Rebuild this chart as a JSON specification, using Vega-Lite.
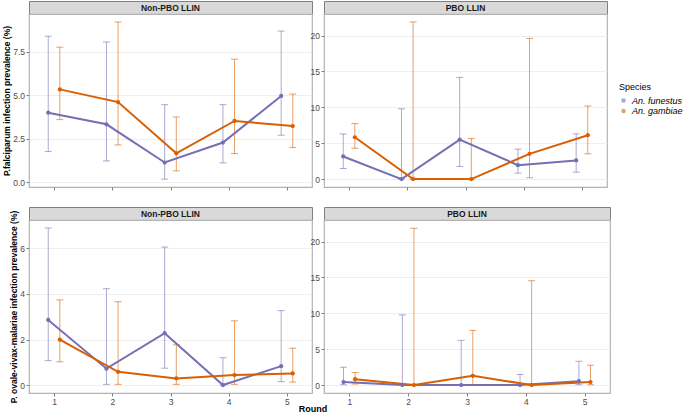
{
  "$schema": "https://vega.github.io/schema/vega-lite/v6.json",
  "padding": {"left": 2, "top": 0, "right": 0, "bottom": 0},
  "title": {"text": "Round", "orient": "bottom", "anchor": "middle", "frame": "group", "fontSize": 9, "fontWeight": "bold", "color": "#000000", "offset": -1, "dx": 284},
  "config": {
    "font": "Liberation Sans",
    "view": {"stroke": "#B3B3B3", "strokeWidth": 1.2},
    "axis": {"labelFontSize": 8.5, "labelColor": "#4D4D4D", "tickColor": "#7F7F7F", "tickSize": 3, "labelPadding": 1.5, "domain": false, "gridColor": "#EBEBEB", "gridWidth": 0.8, "titleFontSize": 8.5, "titleFontWeight": "bold", "titleColor": "#000000", "titlePadding": 1},
    "axisX": {"grid": false},
    "concat": {"spacing": 0}
  },
  "datasets": {
    "prev": [
      {"parasite": "Pf", "net": "Non-PBO LLIN", "Species": "An. funestus", "Round": 1, "prev": 4.0, "lo": 1.76, "hi": 8.4},
      {"parasite": "Pf", "net": "Non-PBO LLIN", "Species": "An. funestus", "Round": 2, "prev": 3.33, "lo": 1.22, "hi": 8.07},
      {"parasite": "Pf", "net": "Non-PBO LLIN", "Species": "An. funestus", "Round": 3, "prev": 1.13, "lo": 0.17, "hi": 4.46},
      {"parasite": "Pf", "net": "Non-PBO LLIN", "Species": "An. funestus", "Round": 4, "prev": 2.28, "lo": 1.11, "hi": 4.46},
      {"parasite": "Pf", "net": "Non-PBO LLIN", "Species": "An. funestus", "Round": 5, "prev": 4.96, "lo": 2.7, "hi": 8.7},
      {"parasite": "Pf", "net": "Non-PBO LLIN", "Species": "An. gambiae", "Round": 1, "prev": 5.34, "lo": 3.6, "hi": 7.77},
      {"parasite": "Pf", "net": "Non-PBO LLIN", "Species": "An. gambiae", "Round": 2, "prev": 4.61, "lo": 2.14, "hi": 9.22},
      {"parasite": "Pf", "net": "Non-PBO LLIN", "Species": "An. gambiae", "Round": 3, "prev": 1.66, "lo": 0.65, "hi": 3.75},
      {"parasite": "Pf", "net": "Non-PBO LLIN", "Species": "An. gambiae", "Round": 4, "prev": 3.52, "lo": 1.65, "hi": 7.08},
      {"parasite": "Pf", "net": "Non-PBO LLIN", "Species": "An. gambiae", "Round": 5, "prev": 3.23, "lo": 1.99, "hi": 5.07},
      {"parasite": "Pf", "net": "PBO LLIN", "Species": "An. funestus", "Round": 1, "prev": 3.15, "lo": 1.48, "hi": 6.3},
      {"parasite": "Pf", "net": "PBO LLIN", "Species": "An. funestus", "Round": 2, "prev": 0, "lo": 0, "hi": 9.8},
      {"parasite": "Pf", "net": "PBO LLIN", "Species": "An. funestus", "Round": 3, "prev": 5.51, "lo": 1.76, "hi": 14.17},
      {"parasite": "Pf", "net": "PBO LLIN", "Species": "An. funestus", "Round": 4, "prev": 1.94, "lo": 0.83, "hi": 4.17},
      {"parasite": "Pf", "net": "PBO LLIN", "Species": "An. funestus", "Round": 5, "prev": 2.6, "lo": 0.97, "hi": 6.3},
      {"parasite": "Pf", "net": "PBO LLIN", "Species": "An. gambiae", "Round": 1, "prev": 5.83, "lo": 4.3, "hi": 7.73},
      {"parasite": "Pf", "net": "PBO LLIN", "Species": "An. gambiae", "Round": 2, "prev": 0, "lo": 0, "hi": 21.9},
      {"parasite": "Pf", "net": "PBO LLIN", "Species": "An. gambiae", "Round": 3, "prev": 0, "lo": 0, "hi": 5.65},
      {"parasite": "Pf", "net": "PBO LLIN", "Species": "An. gambiae", "Round": 4, "prev": 3.52, "lo": 0.19, "hi": 19.6},
      {"parasite": "Pf", "net": "PBO LLIN", "Species": "An. gambiae", "Round": 5, "prev": 6.11, "lo": 3.52, "hi": 10.19},
      {"parasite": "Povm", "net": "Non-PBO LLIN", "Species": "An. funestus", "Round": 1, "prev": 2.86, "lo": 1.07, "hi": 6.9},
      {"parasite": "Povm", "net": "Non-PBO LLIN", "Species": "An. funestus", "Round": 2, "prev": 0.72, "lo": 0.03, "hi": 4.23},
      {"parasite": "Povm", "net": "Non-PBO LLIN", "Species": "An. funestus", "Round": 3, "prev": 2.28, "lo": 0.74, "hi": 6.06},
      {"parasite": "Povm", "net": "Non-PBO LLIN", "Species": "An. funestus", "Round": 4, "prev": 0, "lo": 0, "hi": 1.2},
      {"parasite": "Povm", "net": "Non-PBO LLIN", "Species": "An. funestus", "Round": 5, "prev": 0.83, "lo": 0.15, "hi": 3.27},
      {"parasite": "Povm", "net": "Non-PBO LLIN", "Species": "An. gambiae", "Round": 1, "prev": 1.99, "lo": 1.02, "hi": 3.74},
      {"parasite": "Povm", "net": "Non-PBO LLIN", "Species": "An. gambiae", "Round": 2, "prev": 0.58, "lo": 0.03, "hi": 3.66},
      {"parasite": "Povm", "net": "Non-PBO LLIN", "Species": "An. gambiae", "Round": 3, "prev": 0.29, "lo": 0.03, "hi": 1.77},
      {"parasite": "Povm", "net": "Non-PBO LLIN", "Species": "An. gambiae", "Round": 4, "prev": 0.44, "lo": 0.03, "hi": 2.82},
      {"parasite": "Povm", "net": "Non-PBO LLIN", "Species": "An. gambiae", "Round": 5, "prev": 0.51, "lo": 0.13, "hi": 1.62},
      {"parasite": "Povm", "net": "PBO LLIN", "Species": "An. funestus", "Round": 1, "prev": 0.42, "lo": 0.05, "hi": 2.49},
      {"parasite": "Povm", "net": "PBO LLIN", "Species": "An. funestus", "Round": 2, "prev": 0, "lo": 0, "hi": 9.79},
      {"parasite": "Povm", "net": "PBO LLIN", "Species": "An. funestus", "Round": 3, "prev": 0, "lo": 0, "hi": 6.23},
      {"parasite": "Povm", "net": "PBO LLIN", "Species": "An. funestus", "Round": 4, "prev": 0, "lo": 0, "hi": 1.48},
      {"parasite": "Povm", "net": "PBO LLIN", "Species": "An. funestus", "Round": 5, "prev": 0.55, "lo": 0.05, "hi": 3.32},
      {"parasite": "Povm", "net": "PBO LLIN", "Species": "An. gambiae", "Round": 1, "prev": 0.83, "lo": 0.15, "hi": 1.76},
      {"parasite": "Povm", "net": "PBO LLIN", "Species": "An. gambiae", "Round": 2, "prev": 0, "lo": 0, "hi": 21.85},
      {"parasite": "Povm", "net": "PBO LLIN", "Species": "An. gambiae", "Round": 3, "prev": 1.29, "lo": 0.05, "hi": 7.62},
      {"parasite": "Povm", "net": "PBO LLIN", "Species": "An. gambiae", "Round": 4, "prev": 0, "lo": 0, "hi": 14.54},
      {"parasite": "Povm", "net": "PBO LLIN", "Species": "An. gambiae", "Round": 5, "prev": 0.42, "lo": 0.05, "hi": 2.77}
    ]
  },
  "vconcat": [
    {
      "hconcat": [
        {
          "vconcat": [
            {"width": 283, "height": 13, "data": {"values": [{"label": "Non-PBO LLIN"}]}, "view": {"fill": "#D9D9D9", "stroke": "#808080", "strokeWidth": 1}, "mark": {"type": "text", "fontWeight": "bold", "fontSize": 8.5, "color": "#1A1A1A"}, "encoding": {"text": {"field": "label"}}},
            {
              "width": 283, "height": 173,
              "data": {"name": "prev"},
              "transform": [{"filter": "datum.parasite === 'Pf' && datum.net === 'Non-PBO LLIN'"}],
              "encoding": {
                "x": {"field": "Round", "type": "ordinal", "scale": {"type": "point", "padding": 0.43}, "axis": {"labels": false, "title": null}},
                "xOffset": {"field": "Species", "type": "nominal", "scale": {"type": "point", "range": [-5.8, 5.8], "padding": 0}},
                "color": {"field": "Species", "type": "nominal", "scale": {"domain": ["An. funestus", "An. gambiae"], "range": ["#7570B3", "#D95F02"]},
                  "legend": {"orient": "none", "legendX": 590, "legendY": 82, "title": "Species", "titleFontWeight": "normal", "titleFontSize": 9, "titleColor": "#000000", "labelFontStyle": "italic", "labelFontSize": 9, "labelColor": "#000000", "symbolType": "circle", "symbolSize": 20, "symbolStrokeWidth": 0, "rowPadding": 0.5, "titlePadding": 4}}
              },
              "layer": [
                {"mark": {"type": "rule", "opacity": 0.6, "strokeWidth": 1}, "encoding": {"y": {"field": "lo", "type": "quantitative", "title": "P.falciparum infection prevalence (%)", "scale": {"domain": [-0.28, 9.68], "nice": false, "zero": false}, "axis": {"values": [0, 2.5, 5, 7.5], "format": ".1f"}}, "y2": {"field": "hi"}}},
                {"mark": {"type": "tick", "opacity": 0.6, "size": 7, "thickness": 1}, "encoding": {"y": {"field": "lo", "type": "quantitative", "title": "P.falciparum infection prevalence (%)"}}},
                {"mark": {"type": "tick", "opacity": 0.6, "size": 7, "thickness": 1}, "encoding": {"y": {"field": "hi", "type": "quantitative", "title": "P.falciparum infection prevalence (%)"}}},
                {"mark": {"type": "line", "strokeWidth": 2}, "encoding": {"y": {"field": "prev", "type": "quantitative", "title": "P.falciparum infection prevalence (%)"}}},
                {"mark": {"type": "point", "filled": true, "size": 18, "opacity": 1}, "encoding": {"y": {"field": "prev", "type": "quantitative", "title": "P.falciparum infection prevalence (%)"}}}
              ]
            }
          ],
          "bounds": "flush", "spacing": 0
        },
        {
          "vconcat": [
            {"width": 283, "height": 13, "data": {"values": [{"label": "PBO LLIN"}]}, "view": {"fill": "#D9D9D9", "stroke": "#808080", "strokeWidth": 1}, "mark": {"type": "text", "fontWeight": "bold", "fontSize": 8.5, "color": "#1A1A1A"}, "encoding": {"text": {"field": "label"}}},
            {
              "width": 283, "height": 173,
              "data": {"name": "prev"},
              "transform": [{"filter": "datum.parasite === 'Pf' && datum.net === 'PBO LLIN'"}],
              "encoding": {
                "x": {"field": "Round", "type": "ordinal", "scale": {"type": "point", "padding": 0.43}, "axis": {"labels": false, "title": null}},
                "xOffset": {"field": "Species", "type": "nominal", "scale": {"type": "point", "range": [-5.8, 5.8], "padding": 0}},
                "color": {"field": "Species", "type": "nominal"}
              },
              "layer": [
                {"mark": {"type": "rule", "opacity": 0.6, "strokeWidth": 1}, "encoding": {"y": {"field": "lo", "type": "quantitative", "title": null, "scale": {"domain": [-1.1, 23.0], "nice": false, "zero": false}, "axis": {"values": [0, 5, 10, 15, 20]}}, "y2": {"field": "hi"}}},
                {"mark": {"type": "tick", "opacity": 0.6, "size": 7, "thickness": 1}, "encoding": {"y": {"field": "lo", "type": "quantitative", "title": null}}},
                {"mark": {"type": "tick", "opacity": 0.6, "size": 7, "thickness": 1}, "encoding": {"y": {"field": "hi", "type": "quantitative", "title": null}}},
                {"mark": {"type": "line", "strokeWidth": 2}, "encoding": {"y": {"field": "prev", "type": "quantitative", "title": null}}},
                {"mark": {"type": "point", "filled": true, "size": 18, "opacity": 1}, "encoding": {"y": {"field": "prev", "type": "quantitative", "title": null}}}
              ]
            }
          ],
          "bounds": "flush", "spacing": 0
        }
      ],
      "spacing": -4
    },
    {
      "hconcat": [
        {
          "vconcat": [
            {"width": 283, "height": 13, "data": {"values": [{"label": "Non-PBO LLIN"}]}, "view": {"fill": "#D9D9D9", "stroke": "#808080", "strokeWidth": 1}, "mark": {"type": "text", "fontWeight": "bold", "fontSize": 8.5, "color": "#1A1A1A"}, "encoding": {"text": {"field": "label"}}},
            {
              "width": 283, "height": 173,
              "data": {"name": "prev"},
              "transform": [{"filter": "datum.parasite === 'Povm' && datum.net === 'Non-PBO LLIN'"}],
              "encoding": {
                "x": {"field": "Round", "type": "ordinal", "scale": {"type": "point", "padding": 0.43}, "axis": {"title": null, "labelAngle": 0, "labelPadding": 1}},
                "xOffset": {"field": "Species", "type": "nominal", "scale": {"type": "point", "range": [-5.8, 5.8], "padding": 0}},
                "color": {"field": "Species", "type": "nominal"}
              },
              "layer": [
                {"mark": {"type": "rule", "opacity": 0.6, "strokeWidth": 1}, "encoding": {"y": {"field": "lo", "type": "quantitative", "title": "P. ovale-vivax-malariae infection prevalence (%)", "scale": {"domain": [-0.35, 7.25], "nice": false, "zero": false}, "axis": {"values": [0, 2, 4, 6]}}, "y2": {"field": "hi"}}},
                {"mark": {"type": "tick", "opacity": 0.6, "size": 7, "thickness": 1}, "encoding": {"y": {"field": "lo", "type": "quantitative", "title": "P. ovale-vivax-malariae infection prevalence (%)"}}},
                {"mark": {"type": "tick", "opacity": 0.6, "size": 7, "thickness": 1}, "encoding": {"y": {"field": "hi", "type": "quantitative", "title": "P. ovale-vivax-malariae infection prevalence (%)"}}},
                {"mark": {"type": "line", "strokeWidth": 2}, "encoding": {"y": {"field": "prev", "type": "quantitative", "title": "P. ovale-vivax-malariae infection prevalence (%)"}}},
                {"mark": {"type": "point", "filled": true, "size": 18, "opacity": 1}, "encoding": {"y": {"field": "prev", "type": "quantitative", "title": "P. ovale-vivax-malariae infection prevalence (%)"}}}
              ]
            }
          ],
          "bounds": "flush", "spacing": 0
        },
        {
          "vconcat": [
            {"width": 286, "height": 13, "data": {"values": [{"label": "PBO LLIN"}]}, "view": {"fill": "#D9D9D9", "stroke": "#808080", "strokeWidth": 1}, "mark": {"type": "text", "fontWeight": "bold", "fontSize": 8.5, "color": "#1A1A1A"}, "encoding": {"text": {"field": "label"}}},
            {
              "width": 286, "height": 173,
              "data": {"name": "prev"},
              "transform": [{"filter": "datum.parasite === 'Povm' && datum.net === 'PBO LLIN'"}],
              "encoding": {
                "x": {"field": "Round", "type": "ordinal", "scale": {"type": "point", "padding": 0.43}, "axis": {"title": null, "labelAngle": 0, "labelPadding": 1}},
                "xOffset": {"field": "Species", "type": "nominal", "scale": {"type": "point", "range": [-5.8, 5.8], "padding": 0}},
                "color": {"field": "Species", "type": "nominal"}
              },
              "layer": [
                {"mark": {"type": "rule", "opacity": 0.6, "strokeWidth": 1}, "encoding": {"y": {"field": "lo", "type": "quantitative", "title": null, "scale": {"domain": [-1.1, 23.0], "nice": false, "zero": false}, "axis": {"values": [0, 5, 10, 15, 20]}}, "y2": {"field": "hi"}}},
                {"mark": {"type": "tick", "opacity": 0.6, "size": 7, "thickness": 1}, "encoding": {"y": {"field": "lo", "type": "quantitative", "title": null}}},
                {"mark": {"type": "tick", "opacity": 0.6, "size": 7, "thickness": 1}, "encoding": {"y": {"field": "hi", "type": "quantitative", "title": null}}},
                {"mark": {"type": "line", "strokeWidth": 2}, "encoding": {"y": {"field": "prev", "type": "quantitative", "title": null}}},
                {"mark": {"type": "point", "filled": true, "size": 18, "opacity": 1}, "encoding": {"y": {"field": "prev", "type": "quantitative", "title": null}}}
              ]
            }
          ],
          "bounds": "flush", "spacing": 0
        }
      ],
      "spacing": -4
    }
  ],
  "spacing": 14
}
